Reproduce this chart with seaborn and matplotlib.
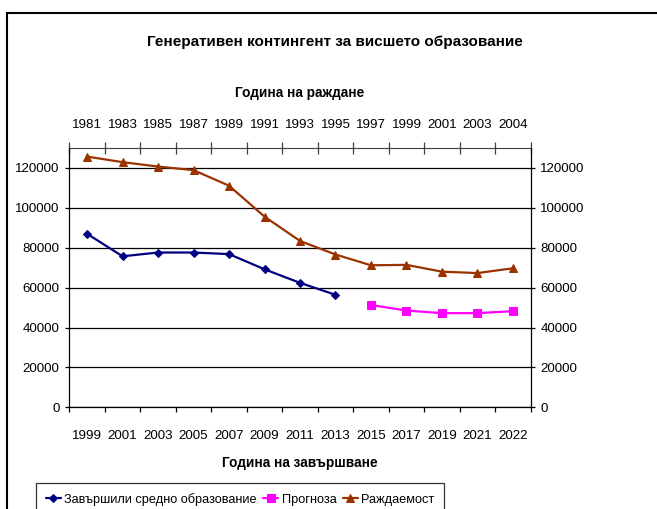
import numpy as np
import pandas as pd
import matplotlib
matplotlib.use("Agg")
import matplotlib.pyplot as plt
import seaborn as sns
from matplotlib.patches import Rectangle
from matplotlib.ticker import FixedLocator, NullFormatter, FixedFormatter

# ---- data ----
finish_years = ["1999", "2001", "2003", "2005", "2007", "2009", "2011",
                "2013", "2015", "2017", "2019", "2021", "2022"]
birth_years = ["1981", "1983", "1985", "1987", "1989", "1991", "1993",
               "1995", "1997", "1999", "2001", "2003", "2004"]
graduates = [87000, 75700, 77600, 77600, 76800, 69200, 62400, 56400]
forecast = [51300, 48500, 47200, 47200, 48200]
births = [125700, 122900, 120700, 118900, 111100, 95600, 83400,
          76600, 71200, 71400, 68000, 67300, 69700]
y_ticks = [0, 20000, 40000, 60000, 80000, 100000, 120000]

title = "Генеративен контингент за висшето образование"
top_label = "Година на раждане"
bottom_label = "Година на завършване"
names = ["Завършили средно образование", "Прогноза", "Раждаемост"]

sns.set_style("white")
plt.rcParams["font.family"] = ["Liberation Sans", "DejaVu Sans"]
plt.rcParams["text.color"] = "black"
plt.rcParams["xtick.color"] = "black"
plt.rcParams["ytick.color"] = "black"

FS = 9.6

W, H = 657, 509
fig = plt.figure(figsize=(W / 100, H / 100), dpi=100)
L, R, T, B = 69.3, 530.7, 148.0, 407.3
ax = fig.add_axes([L / W, 1 - B / H, (R - L) / W, (B - T) / H])

n = len(finish_years)
pos = np.arange(n)
df_b = pd.DataFrame({"pos": pos, "v": births})
df_g = pd.DataFrame({"pos": pos[:len(graduates)], "v": graduates})
df_f = pd.DataFrame({"pos": pos[len(graduates):], "v": forecast})

sns.lineplot(data=df_g, x="pos", y="v", ax=ax, color="#000080", lw=1.6,
             marker="D", ms=4.5, mec="#000080", label=names[0], zorder=3)
sns.lineplot(data=df_f, x="pos", y="v", ax=ax, color="#FF00FF", lw=1.6,
             marker="s", ms=6, mec="#FF00FF", label=names[1], zorder=3)
sns.lineplot(data=df_b, x="pos", y="v", ax=ax, color="#993300", lw=1.6,
             marker="^", ms=6, mec="#993300", label=names[2], zorder=3)
handles, labels = ax.get_legend_handles_labels()
if ax.get_legend() is not None:
    ax.get_legend().remove()

ax.set_xlim(-0.5, n - 0.5)
ax.set_ylim(0, 130000)
ax.set_xlabel("")
ax.set_ylabel("")

# y axis (left and right)
ax.set_yticks(y_ticks)
ax.set_yticklabels([str(v) for v in y_ticks])
ax.yaxis.grid(True, color="black", lw=0.9)
ax.xaxis.grid(False)
ax.tick_params(axis="y", which="both", left=True, right=True, labelleft=True,
               labelright=True, direction="out", length=3, width=0.9,
               labelsize=FS, pad=4, colors="black")

# bottom x axis: ticks between categories, labels at centres
ax.xaxis.set_major_locator(FixedLocator(np.arange(-0.5, n, 1.0)))
ax.xaxis.set_major_formatter(NullFormatter())
ax.xaxis.set_minor_locator(FixedLocator(pos))
ax.xaxis.set_minor_formatter(FixedFormatter(finish_years))
ax.tick_params(axis="x", which="major", bottom=True, top=False, direction="out",
               length=3.5, width=0.9, colors="black")
ax.tick_params(axis="x", which="minor", bottom=True, top=False, length=0,
               labelsize=FS, pad=16)

# top x axis
sec = ax.secondary_xaxis("top")
sec.xaxis.set_major_locator(FixedLocator(np.arange(-0.5, n, 1.0)))
sec.xaxis.set_major_formatter(NullFormatter())
sec.xaxis.set_minor_locator(FixedLocator(pos))
sec.xaxis.set_minor_formatter(FixedFormatter(birth_years))
sec.tick_params(axis="x", which="major", direction="inout", length=9,
                width=0.9, colors="#404040")
sec.tick_params(axis="x", which="minor", length=0, labelsize=FS, pad=12.5,
                labelcolor="black")
sec.spines["top"].set_color("#404040")

for s in ["left", "right", "bottom"]:
    ax.spines[s].set_visible(True)
    ax.spines[s].set_color("black")
    ax.spines[s].set_linewidth(0.9)
ax.spines["top"].set_visible(False)

# texts
fig.text(335 / W, 1 - 42 / H, title, ha="center", va="center",
         fontsize=11, fontweight="bold")
fig.text((L + R) / 2 / W, 1 - 93 / H, top_label, ha="center", va="center",
         fontsize=9.8, fontweight="bold")
fig.text((L + R) / 2 / W, 1 - 463 / H, bottom_label, ha="center", va="center",
         fontsize=9.8, fontweight="bold")

# legend
leg = fig.legend(handles, labels, loc="upper left",
                 bbox_to_anchor=(36 / W, 1 - 483 / H), ncol=3, fontsize=9.2,
                 frameon=True, fancybox=False, edgecolor="black",
                 handlelength=1.2, handletextpad=0.25, columnspacing=0.5,
                 borderpad=0.75, borderaxespad=0)
leg.get_frame().set_linewidth(0.9)

# chart frame
fig.add_artist(Rectangle((7 / W, -0.1), 1.2, 1 - 13 / H + 0.1,
                         transform=fig.transFigure, fill=False,
                         ec="black", lw=1.5))

fig.savefig("out.png", dpi=100)
